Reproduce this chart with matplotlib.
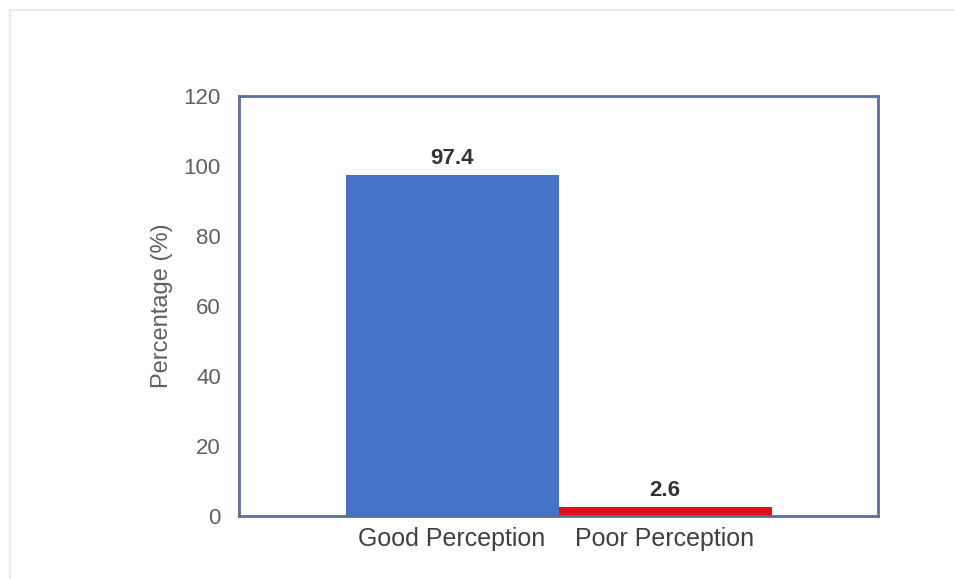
import matplotlib
matplotlib.use("Agg")
import matplotlib.pyplot as plt
from matplotlib.patches import Rectangle

categories = ["Good Perception", "Poor Perception"]
values = [97.4, 2.6]
bar_colors = ["#4472C4", "#E0101A"]
y_ticks = [0, 20, 40, 60, 80, 100, 120]

plt.rcParams["font.family"] = ["Liberation Sans", "DejaVu Sans"]

fig = plt.figure(figsize=(9.55, 5.79), dpi=100)
fig.patch.set_facecolor("white")

# light outer chart-area border
fig.patches.append(Rectangle((10 / 955, -0.02), 1.0, 1 - 10 / 579 + 0.02,
                             transform=fig.transFigure, fill=False,
                             edgecolor="#e6e6e6", linewidth=1.2))

ax = fig.add_axes([239 / 955, 1 - 516 / 579, (878 - 239) / 955, (516 - 96) / 579])

x = list(range(len(categories)))
bars = ax.bar(x, values, width=1.0, color=bar_colors, zorder=2)

for xi, v in zip(x, values):
    ax.text(xi, v + 1.8, f"{v}", ha="center", va="bottom",
            fontsize=16, color="#333333", fontweight="bold")

ax.set_xlim(-1.0, 2.0)
ax.set_ylim(0, 120)
ax.set_yticks(y_ticks)
ax.set_yticklabels([str(t) for t in y_ticks], fontsize=16, color="#606060")
ax.set_xticks(x)
ax.set_xticklabels(categories, fontsize=18, color="#404040")
ax.tick_params(axis="both", length=0)
ax.tick_params(axis="y", pad=13)
ax.tick_params(axis="x", pad=8)

for side in ["left", "right", "top", "bottom"]:
    ax.spines[side].set_color("#5a6e9e")
    ax.spines[side].set_linewidth(2)

ax.set_ylabel("Percentage (%)", fontsize=17, color="#606060", labelpad=8)

fig.savefig("out.png", dpi=100, facecolor="white")
